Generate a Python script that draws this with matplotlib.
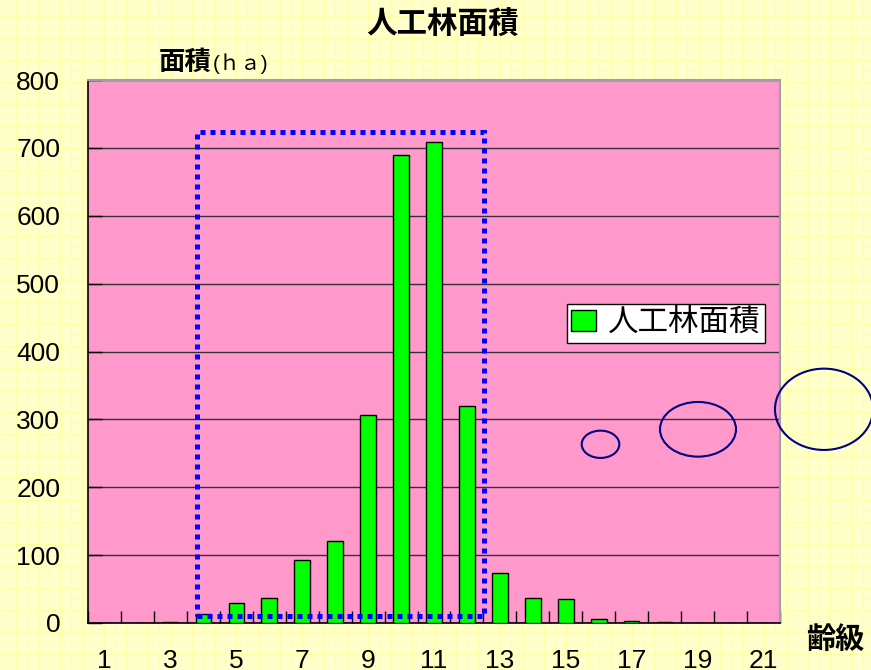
import matplotlib
matplotlib.use("Agg")
from matplotlib import pyplot as plt
from matplotlib.patches import Rectangle, Ellipse
import numpy as np

plt.rcParams['font.family'] = ['Liberation Sans', 'Noto Sans CJK JP']

# data: area (ha) of planted forest by age class
age_class = list(range(1, 22))
area = [0, 0, 2, 13, 30, 37, 93, 121, 306, 689, 708, 320, 74, 37, 35, 6, 3, 2, 0, 0, 0]
x_labels = [str(i) for i in range(1, 22, 2)]
series_name = "人工林面積"

W, H = 871, 670
fig = plt.figure(figsize=(W / 100, H / 100), dpi=100)
fig.patch.set_facecolor('#FFFFCC')

# background graph-paper pattern
bg = fig.add_axes([0, 0, 1, 1], zorder=0)
bg.set_xlim(0, W)
bg.set_ylim(0, H)
bg.set_facecolor('#FFFFCC')
for gx in np.arange(5, W, 11):
    bg.axvline(gx, color='#FFFFA8', lw=0.8)
for gy in np.arange(5, H, 11):
    bg.axhline(gy, color='#FFFFA8', lw=0.8)
bg.axis('off')

ax = fig.add_axes([88 / W, 47 / H, 692 / W, 543 / H], zorder=1)
ax.set_facecolor('#FF99CC')

ax.bar(age_class, area, width=0.47, color='#00FF00', edgecolor='black',
       linewidth=1, label=series_name, zorder=3)

ax.set_xlim(0.5, 21.5)
ax.set_ylim(0, 800)
ax.set_yticks(range(0, 801, 100))
ax.yaxis.grid(True, color='#333333', lw=1)
ax.set_axisbelow(True)

ax.set_xticks(range(1, 22, 2))
ax.set_xticklabels(x_labels)
ax.set_xticks(np.arange(0.5, 22, 1), minor=True)
ax.tick_params(axis='x', which='major', length=0, pad=19, labelsize=19)
ax.tick_params(axis='x', which='minor', direction='in', length=9, width=1)
ax.tick_params(axis='y', direction='in', length=10, width=1, pad=20, labelsize=19)

for s in ['left', 'bottom']:
    ax.spines[s].set_color('black')
    ax.spines[s].set_linewidth(1.2)
for s in ['top', 'right']:
    ax.spines[s].set_color('#A0A0A0')
    ax.spines[s].set_linewidth(1.5)

# dotted highlight box around age classes 4-12
box = Rectangle((3.8, 11), 12.52 - 3.8, 723 - 11, fill=False, edgecolor='#0000FF',
                lw=3.6, linestyle=(0, (1, 1)), zorder=4, clip_on=False)
ax.add_patch(box)

# circles
for cx, cy, w, h in [(600.5, 444.3, 37.6, 27.3), (698, 429.3, 76, 54.7), (824, 409.3, 98, 81.3)]:
    e = Ellipse((cx / W, 1 - cy / H), w / W, h / H, transform=fig.transFigure,
                fill=False, edgecolor='#000080', lw=1.5, zorder=5)
    fig.add_artist(e)

leg = ax.legend(loc='center', bbox_to_anchor=(0.835, 0.552), fontsize=22,
                frameon=True, fancybox=False, edgecolor='black', framealpha=1,
                handlelength=0.8, handleheight=0.7, handletextpad=0.4,
                borderpad=0.15, borderaxespad=0)
leg.get_frame().set_linewidth(1)
leg.set_zorder(6)

fig.text(443 / W, 1 - 26 / H, "人工林面積", ha='center', va='center',
         fontsize=22, fontweight='bold')
fig.text(159 / W, 1 - 63 / H, "面積", ha='left', va='center', fontsize=19,
         fontweight='bold')
fig.text(213 / W, 1 - 64 / H, "(ｈａ)", ha='left', va='center', fontsize=15)
fig.text(835 / W, 1 - 640 / H, "齢級", ha='center', va='center', fontsize=21,
         fontweight='bold')

fig.savefig('out.png', dpi=100, facecolor=fig.get_facecolor())
